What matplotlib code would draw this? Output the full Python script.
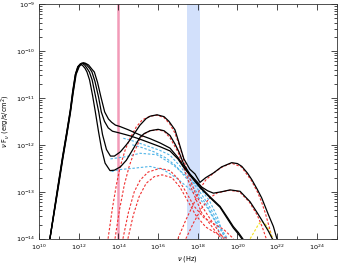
import numpy as np
import matplotlib
matplotlib.use('Agg')
import matplotlib.pyplot as plt
from matplotlib.ticker import LogLocator, NullFormatter

# log10(nu), log10(nu F_nu)
# total SED, model with deep dip and weak 2nd bump
tot_a_x = [10.55, 10.8, 11.0, 11.2, 11.4, 11.58, 11.7, 11.83, 11.95, 12.08, 12.2, 12.32, 12.42, 12.55, 12.7,
           12.84, 13.0, 13.15, 13.33, 13.58, 13.8, 14.1, 14.4, 14.7, 15.09, 15.3, 15.6, 16.0, 16.3, 16.6,
           16.85, 17.05, 17.3, 17.6, 17.95, 18.2, 18.5, 18.79, 19.2, 19.63, 20.13, 20.63, 21.0, 21.22, 21.56,
           21.78]
tot_a_y = [-14.0, -13.3, -12.75, -12.22, -11.72, -11.25, -10.85, -10.5, -10.34, -10.28, -10.31, -10.37,
           -10.45, -10.62, -10.95, -11.3, -11.72, -12.08, -12.39, -12.55, -12.54, -12.47, -12.33, -12.12,
           -11.84, -11.76, -11.7, -11.67, -11.7, -11.8, -11.98, -12.15, -12.42, -12.62, -12.78, -12.9, -12.98,
           -13.03, -13.0, -12.96, -12.99, -13.21, -13.45, -13.6, -13.84, -14.02]
# model with strong 2nd bump
tot_b_x = [10.55, 10.8, 11.0, 11.2, 11.4, 11.58, 11.7, 11.84, 11.97, 12.08, 12.17, 12.3, 12.42, 12.54, 12.68,
           12.85, 13.01, 13.2, 13.4, 13.6, 13.8, 14.1, 14.4, 14.6, 14.85, 15.09, 15.4, 15.6, 15.95, 16.3,
           16.55, 16.85, 17.05, 17.3, 17.6, 17.86, 18.11, 18.4, 18.79, 19.2, 19.71, 20.0, 20.22, 20.5, 20.72,
           21.0, 21.22, 21.4, 21.56, 21.81, 21.98, 22.02]
tot_b_y = [-14.0, -13.32, -12.78, -12.24, -11.74, -11.27, -10.88, -10.5, -10.33, -10.28, -10.26, -10.3,
           -10.37, -10.45, -10.62, -10.97, -11.3, -11.78, -12.1, -12.24, -12.24, -12.15, -12.0, -11.89, -11.73,
           -11.58, -11.44, -11.39, -11.36, -11.4, -11.5, -11.68, -11.95, -12.3, -12.52, -12.62, -12.8, -12.7,
           -12.6, -12.47, -12.38, -12.4, -12.46, -12.6, -12.74, -12.95, -13.13, -13.32, -13.49, -13.74, -13.99,
           -14.05]
# models with the synchrotron shoulder
tot_c_x = [10.55, 10.8, 11.0, 11.2, 11.4, 11.58, 11.72, 11.87, 12.03, 12.17, 12.33, 12.5, 12.65, 12.79,
           12.95, 13.12, 13.31, 13.5, 13.66, 13.85, 14.08, 14.5, 15.09, 15.6, 16.1, 16.6, 17.0, 17.27, 17.7,
           18.11, 18.6, 19.12, 19.5, 19.79, 20.05, 20.35]
tot_c_y = [-14.0, -13.36, -12.84, -12.3, -11.8, -11.33, -10.9, -10.5, -10.33, -10.27, -10.26, -10.3, -10.38,
           -10.45, -10.67, -10.98, -11.3, -11.45, -11.52, -11.58, -11.61, -11.68, -11.79, -11.87, -11.96,
           -12.07, -12.27, -12.44, -12.68, -12.89, -13.1, -13.31, -13.55, -13.74, -13.87, -14.05]
tot_d_x = [10.55, 10.8, 11.0, 11.2, 11.4, 11.58, 11.71, 11.85, 12.0, 12.12, 12.25, 12.4, 12.55, 12.67,
           12.82, 13.0, 13.14, 13.3, 13.49, 13.7, 14.08, 14.6, 15.09, 15.6, 16.1, 16.6, 17.0, 17.27, 17.7,
           18.11, 18.6, 19.12, 19.5, 19.79, 20.1, 20.3]
tot_d_y = [-14.0, -13.34, -12.8, -12.27, -11.77, -11.3, -10.89, -10.5, -10.33, -10.27, -10.25, -10.3, -10.37,
           -10.45, -10.65, -10.98, -11.3, -11.5, -11.64, -11.71, -11.75, -11.81, -11.88, -11.96, -12.04,
           -12.13, -12.3, -12.47, -12.7, -12.91, -13.12, -13.33, -13.58, -13.77, -13.93, -14.05]

# SSC components (red dashed)
ssc_a_x = [13.83, 14.05, 14.3, 14.55, 14.8, 15.09, 15.3, 15.6, 16.0, 16.3, 16.6, 17.0, 17.3, 17.6, 17.9,
           18.2, 18.5, 18.9, 19.2]
ssc_a_y = [-14.0, -13.4, -12.85, -12.45, -12.15, -11.88, -11.77, -11.7, -11.68, -11.71, -11.85, -12.15,
           -12.5, -12.85, -13.15, -13.45, -13.62, -13.85, -14.0]
ssc_b_x = [13.48, 13.7, 13.9, 14.1, 14.35, 14.6, 14.9, 15.2, 15.6, 15.95, 16.3, 16.6, 16.85, 17.1, 17.35,
           17.6, 17.9, 18.2, 18.5, 18.9, 19.3]
ssc_b_y = [-14.0, -13.35, -12.85, -12.45, -12.1, -11.85, -11.62, -11.47, -11.39, -11.37, -11.42, -11.56,
           -11.75, -12.05, -12.4, -12.72, -13.05, -13.3, -13.5, -13.75, -14.0]
ssc_c_x = [14.23, 14.5, 14.8, 15.1, 15.5, 16.1, 16.6, 17.0, 17.4, 17.8, 18.3, 18.8, 19.3, 19.8]
ssc_c_y = [-14.0, -13.45, -13.0, -12.75, -12.58, -12.5, -12.55, -12.72, -13.0, -13.3, -13.55, -13.68, -13.8,
           -14.0]
ssc_d_x = [14.48, 14.75, 15.05, 15.4, 15.8, 16.2, 16.7, 17.1, 17.5, 17.9, 18.4, 18.9, 19.5]
ssc_d_y = [-14.0, -13.5, -13.1, -12.82, -12.68, -12.64, -12.7, -12.9, -13.2, -13.5, -13.75, -13.88, -14.0]
# second order SSC (red dashed)
ssc2_a_x = [17.4, 17.8, 18.2, 18.6, 19.0, 19.6, 20.1, 20.6, 21.0, 21.25, 21.45]
ssc2_a_y = [-14.0, -13.65, -13.35, -13.13, -13.02, -12.97, -13.0, -13.22, -13.5, -13.75, -14.0]
ssc2_b_x = [17.0, 17.4, 17.8, 18.1, 18.4, 18.8, 19.2, 19.7, 20.2, 20.7, 21.0, 21.2, 21.4, 21.6, 21.75]
ssc2_b_y = [-14.0, -13.6, -13.25, -12.95, -12.75, -12.6, -12.48, -12.39, -12.47, -12.76, -13.0, -13.2, -13.45,
            -13.75, -14.0]

# external Compton components (blue dashed)
ec_a_x = [13.66, 14.0, 14.75, 15.6, 16.27, 16.94, 17.61, 18.1, 18.5, 18.9, 19.2]
ec_a_y = [-12.57, -12.53, -12.5, -12.46, -12.53, -12.71, -12.95, -13.15, -13.35, -13.65, -14.0]
ec_b_x = [13.6, 14.42, 15.09, 15.93, 16.77, 17.44, 18.11, 18.6, 19.0, 19.35]
ec_b_y = [-12.3, -12.25, -12.18, -12.21, -12.43, -12.67, -12.92, -13.2, -13.55, -14.0]
ec_c_x = [14.25, 14.75, 15.5, 16.1, 16.6, 17.1, 17.6, 18.1, 18.5, 18.9, 19.2, 19.5]
ec_c_y = [-11.86, -11.92, -12.03, -12.12, -12.22, -12.45, -12.72, -13.0, -13.25, -13.55, -13.8, -14.0]
ec_d_x = [14.7, 15.2, 15.8, 16.4, 16.9, 17.4, 17.9, 18.4, 18.8, 19.2, 19.45]
ec_d_y = [-12.0, -12.06, -12.15, -12.28, -12.45, -12.7, -12.98, -13.25, -13.55, -13.85, -14.0]

# yellow dashed component
yel_x = [20.64, 20.85, 21.05, 21.22, 21.4, 21.64, 21.81]
yel_y = [-14.0, -13.85, -13.7, -13.63, -13.68, -13.85, -14.02]

optical_nu = 1e14
xray_band = [3e17, 1.3e18]

fig = plt.figure(figsize=(3.42, 2.63), dpi=100)
ax = fig.add_axes([0.114, 0.0924, 0.8705, 0.8924])

ax.axvspan(xray_band[0], xray_band[1], color='#d2e0fb', lw=0, zorder=0)
ax.axvline(optical_nu, color='#f29bb8', lw=1.8, zorder=1)

dash = (0, (2.2, 1.6))
for xs, ys in [(ec_a_x, ec_a_y), (ec_b_x, ec_b_y), (ec_c_x, ec_c_y), (ec_d_x, ec_d_y)]:
    ax.plot(10 ** np.array(xs), 10 ** np.array(ys), color='#4fb4e8', lw=0.8, ls=dash, zorder=2)
for xs, ys in [(ssc_a_x, ssc_a_y), (ssc_b_x, ssc_b_y), (ssc_c_x, ssc_c_y), (ssc_d_x, ssc_d_y),
               (ssc2_a_x, ssc2_a_y), (ssc2_b_x, ssc2_b_y)]:
    ax.plot(10 ** np.array(xs), 10 ** np.array(ys), color='#f03030', lw=0.8, ls=dash, zorder=3)
ax.plot(10 ** np.array(yel_x), 10 ** np.array(yel_y), color='#f2e21a', lw=0.8, ls=dash, zorder=3)

for xs, ys in [(tot_a_x, tot_a_y), (tot_b_x, tot_b_y), (tot_c_x, tot_c_y), (tot_d_x, tot_d_y)]:
    ax.plot(10 ** np.array(xs), 10 ** np.array(ys), color='black', lw=0.9, zorder=4,
            solid_joinstyle='round')

ax.set_xscale('log')
ax.set_yscale('log')
ax.set_xlim(1e10, 1e25)
ax.set_ylim(1e-14, 1e-9)

ax.xaxis.set_major_locator(LogLocator(base=100.0, numticks=20))
ax.xaxis.set_minor_locator(LogLocator(base=10.0, subs=(1.0,), numticks=30))
ax.xaxis.set_minor_formatter(NullFormatter())
ax.yaxis.set_major_locator(LogLocator(base=10.0, numticks=20))
ax.yaxis.set_minor_locator(LogLocator(base=10.0, subs=np.arange(2, 10), numticks=20))
ax.yaxis.set_minor_formatter(NullFormatter())

ax.tick_params(which='both', direction='in', top=True, right=True, labelsize=4.6, width=0.5)
ax.tick_params(axis='x', pad=2.8)
ax.tick_params(axis='y', pad=2.5)
ax.tick_params(which='major', length=4)
ax.tick_params(which='minor', length=2)
for s in ax.spines.values():
    s.set_linewidth(0.6)
    s.set_color('#333333')

ax.set_xlabel(r'$\nu$ (Hz)', fontsize=4.8)
ax.set_ylabel(r'$\nu$ F$_\nu$ (erg/s/cm$^2$)', fontsize=4.8)
ax.xaxis.set_label_coords(0.5, -0.066)
ax.yaxis.set_label_coords(-0.092, 0.5)

fig.savefig('out.png', dpi=100)
